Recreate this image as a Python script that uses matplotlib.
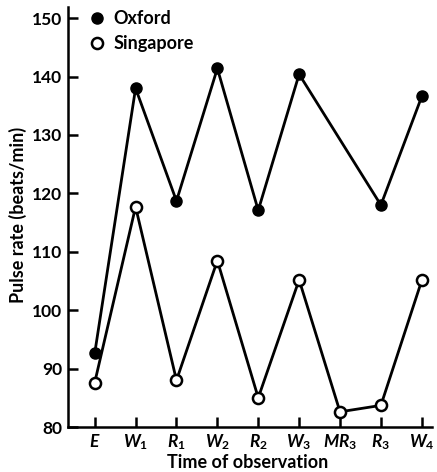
import matplotlib
matplotlib.use("Agg")
import matplotlib.pyplot as plt
from matplotlib.lines import Line2D

plt.rcParams['font.family'] = ['Lato', 'DejaVu Sans']
plt.rcParams['font.weight'] = 'bold'
plt.rcParams['mathtext.fontset'] = 'custom'
plt.rcParams['mathtext.it'] = 'Lato:italic:bold'
plt.rcParams['mathtext.rm'] = 'Lato:bold'
plt.rcParams['mathtext.default'] = 'it'

categories = ["$E$", "$W_1$", "$R_1$", "$W_2$", "$R_2$", "$W_3$", "$MR_3$", "$R_3$", "$W_4$"]
oxford = [92.6, 138.0, 118.7, 141.4, 117.1, 140.4, None, 118.0, 136.6]
singapore = [87.6, 117.7, 88.0, 108.5, 85.0, 105.2, 82.6, 83.7, 105.1]
yticks = [80, 90, 100, 110, 120, 130, 140, 150]

fig = plt.figure(figsize=(4.37, 4.72), dpi=100)
ax = fig.add_axes([68/437, 1 - 427/472, (432-68)/437, 420.5/472])

ox_x = [i for i, v in enumerate(oxford) if v is not None]
ox_y = [v for v in oxford if v is not None]
sg_x = list(range(len(singapore)))

ax.plot(ox_x, ox_y, color='black', lw=2.0, marker='o', ms=8,
        mfc='black', mec='black', zorder=3)
ax.plot(sg_x, singapore, color='black', lw=2.0, marker='o', ms=8,
        mfc='white', mec='black', mew=1.8, zorder=3)

ax.set_xlim(-0.653, 8.25)
ax.set_ylim(80, 152)
ax.set_xticks(range(len(categories)))
ax.set_xticklabels(categories, fontsize=12.5)
ax.set_yticks(yticks)
ax.set_yticklabels([str(t) for t in yticks], fontsize=12.5, fontweight='bold')

for s in ['top', 'right']:
    ax.spines[s].set_visible(False)
for s in ['left', 'bottom']:
    ax.spines[s].set_linewidth(1.8)
ax.tick_params(axis='both', direction='in', length=7, width=1.8, colors='black')
ax.tick_params(axis='y', pad=4)
ax.tick_params(axis='x', pad=4)

ax.set_xlabel("Time of observation", fontsize=13, fontweight='bold')
ax.xaxis.set_label_coords((248-68)/364, -27/420.5)
ax.set_ylabel("Pulse rate (beats/min)", fontsize=13, fontweight='bold')
ax.yaxis.set_label_coords(-(68-27)/364, (427-215)/420.5)

handles = [
    Line2D([], [], ls='none', marker='o', ms=8, mfc='black', mec='black'),
    Line2D([], [], ls='none', marker='o', ms=8, mfc='white', mec='black', mew=1.8),
]
ax.legend(handles, ["Oxford", "Singapore"], loc='upper left',
          bbox_to_anchor=(90/437, 1 - 10/472), bbox_transform=fig.transFigure,
          frameon=False, fontsize=13, handlelength=0.8, handletextpad=0.5,
          labelspacing=0.45, borderpad=0, borderaxespad=0)

fig.savefig("out.png", dpi=100)
